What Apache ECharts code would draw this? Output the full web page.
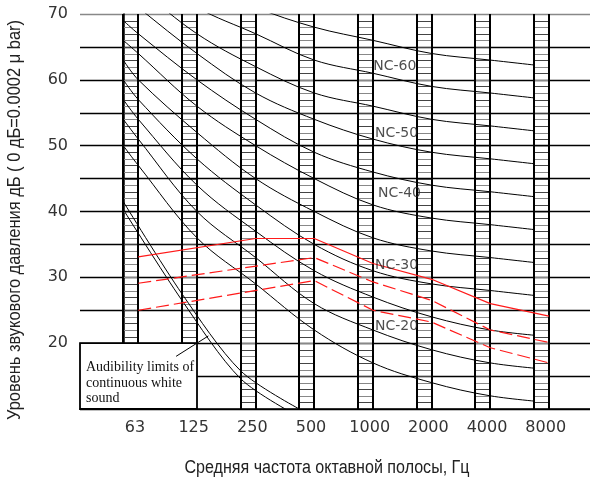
<!DOCTYPE html>
<html><head><meta charset="utf-8">
<script src="https://cdn.jsdelivr.net/npm/echarts@6/dist/echarts.min.js"></script>
<style>html,body{margin:0;padding:0;background:#fff}#c{width:590px;height:483px}</style>
</head><body><div id="c"></div>
<script>
// ---- data ----
const freqLabels = ['63','125','250','500','1000','2000','4000','8000'];
// NC curves: values at each octave band (drawn at the right edge of each band column)
const nc15 = [47,36,29,22,17,14,12,11];
const nc20 = [51,40,33,26,22,19,17,16];
const nc25 = [54,44,37,31,27,24,22,21];
const nc30 = [57,48,41,35,31,29,28,27];
const nc35 = [60,52,45,40,36,34,33,32];
const nc40 = [64,56,50,45,41,39,38,37];
const nc45 = [67,60,54,49,46,44,43,42];
const nc50 = [71,64,58,54,51,49,48,47];
const nc55 = [74,67,62,58,56,54,53,52];
const nc60 = [77,71,67,63,61,59,58,57];
const nc65 = [80,75,71,68,66,64,63,62];
// level of each NC curve where it enters at the left border of the 63 Hz column
const ncEdge63 = [50,54,57,60,63,66,69,73,76,78.5,81.5];
const audUpper = [41.5,27.5,15.8,10.0];
const audLower = [40.3,26.5,14.6,8.8];
const redSolid = [33.1,null,35.9,35.9,32.1,29.7,26.0,24.1];
const redDash1 = [29.1,null,null,33.0,29.3,26.5,22.0,20.1];
const redDash2 = [25.0,null,null,29.5,25.0,23.2,19.3,17.0];
const columnBottom = [20,20,10,10,10,10,10,10];
const ncLabels = ['NC-60','NC-50','NC-40','NC-30','NC-20'];
const ncLabelDb = [62.0,51.8,42.7,31.8,22.5];
const ncLabelX = [4.26,4.29,4.34,4.29,4.29];
const leaderX = [0.90,1.45];
const leaderDb = [18.0,21.1];
const noteText = 'Audibility limits of\ncontinuous white\nsound';
const yTitle = 'Уровень звукового давления дБ ( 0 дБ=0.0002 μ bar)';
const xTitle = 'Средняя частота октавной полосы, Гц';

// ---- layout constants ----
const GRID_L = 80, GRID_T = 14, GRID_W = 510, GRID_H = 395;
const X_MIN = -0.738, X_MAX = 7.955, COL_W = 0.2557, LABEL_OFF = 0.2;
const Y_MIN = 10, Y_MAX = 70;
const PX_PER_UNIT = GRID_W / (X_MAX - X_MIN);
const TITLE_FONT = 'Liberation Sans', TITLE_SIZE = 18;
const TICK_FONT = '"DejaVu Sans ExtraLight", "DejaVu Sans"';

function condenseScale(text, targetWidth){
  const ctx = document.createElement('canvas').getContext('2d');
  ctx.font = TITLE_SIZE + 'px "' + TITLE_FONT + '"';
  return targetWidth / ctx.measureText(text).width;
}

const chart = echarts.init(document.getElementById('c'), null, {renderer:'canvas'});

const ncSets = [nc15,nc20,nc25,nc30,nc35,nc40,nc45,nc50,nc55,nc60,nc65];
const ncSeries = ncSets.map((arr, k) => ({
  type:'line', name:'NC'+(15+5*k), xAxisIndex:1, yAxisIndex:1, clip:true,
  data: [[0, ncEdge63[k]]].concat(arr.map((v,i)=>[i+COL_W, v])),
  smooth:0.35, symbol:'none', silent:true, z:5,
  lineStyle:{color:'#000', width:1}
}));
const audSeries = [audUpper, audLower].map(arr => ({
  type:'line', data: arr.map((v,i)=>[i,v]), smooth:0.3, symbol:'none', silent:true, z:5,
  lineStyle:{color:'#000', width:1}
}));
function redData(arr){ return arr.map((v,i)=>[i+COL_W, v]).filter(d=>d[1]!==null); }
const redSeries = [
  {type:'line', data:redData(redSolid), symbol:'none', z:8, lineStyle:{color:'#ff1a1a', width:1.2}},
  {type:'line', data:redData(redDash1), symbol:'none', z:8, lineStyle:{color:'#ff1a1a', width:1.2, type:[13,5]}},
  {type:'line', data:redData(redDash2), symbol:'none', z:8, lineStyle:{color:'#ff1a1a', width:1.2, type:[13,5]}}
];

const splitColors = [];
for (let v = Y_MIN; v <= Y_MAX; v += 5) splitColors.push(v === Y_MAX ? '#888' : '#000');

const ySc = condenseScale(yTitle, 400);
const xSc = condenseScale(xTitle, 285);
const lastBand = freqLabels.length - 1;

const option = {
  animation:false,
  grid:[
    {left:GRID_L, top:GRID_T, width:GRID_W, height:GRID_H, outerBoundsMode:'none'},
    {left:GRID_L + (0 - X_MIN) * PX_PER_UNIT, top:GRID_T, width:lastBand * PX_PER_UNIT, height:GRID_H, outerBoundsMode:'none'}
  ],
  xAxis:[{
    type:'value', min:X_MIN, max:X_MAX, gridIndex:0,
    axisLine:{show:true, lineStyle:{color:'#000', width:1.5}},
    axisTick:{show:false}, splitLine:{show:false},
    axisLabel:{
      customValues: freqLabels.map((_,i)=>i+LABEL_OFF),
      formatter: v => freqLabels[Math.round(v-LABEL_OFF)] || '',
      fontFamily:TICK_FONT, fontSize:16, color:'#333', margin:11
    }
  },{
    type:'value', min:0, max:lastBand, gridIndex:1, show:false
  }],
  yAxis:[{
    type:'value', min:Y_MIN, max:Y_MAX, interval:5, gridIndex:0,
    axisLine:{show:true, lineStyle:{color:'#000', width:1.5}},
    axisTick:{show:false},
    splitLine:{show:true, lineStyle:{color:splitColors, width:1.4}},
    axisLabel:{
      formatter: v => (v % 10 === 0 && v > Y_MIN) ? String(v) : '',
      fontFamily:TICK_FONT, fontSize:16, color:'#333', margin:12
    }
  },{
    type:'value', min:Y_MIN, max:Y_MAX, gridIndex:1, show:false
  }],
  graphic:[
    {type:'text', x:15, y:220, rotation:Math.PI/2, scaleX:ySc,
     style:{text:yTitle, fontFamily:TITLE_FONT, fontSize:TITLE_SIZE, fill:'#222', align:'center', verticalAlign:'middle'}},
    {type:'text', x:327, y:468, scaleX:xSc,
     style:{text:xTitle, fontFamily:TITLE_FONT, fontSize:TITLE_SIZE, fill:'#222', align:'center', verticalAlign:'middle'}},
    {type:'text', x:86, y:360, z:20,
     style:{text:noteText, fontFamily:'Liberation Serif', fontSize:14, lineHeight:15.5, fill:'#111', align:'left', verticalAlign:'top'}}
  ],
  series:[
    {type:'custom', name:'columns', silent:true, z:3, clip:false,
     data: columnBottom.map((b,i)=>[i,b]),
     renderItem:(params, api) => {
       const i = api.value(0), bottom = api.value(1);
       const tl = api.coord([i, Y_MAX]);
       const br = api.coord([i+COL_W, bottom]);
       const xl = Math.round(tl[0]), xr = Math.round(br[0]);
       const children = [];
       for (let d = bottom+1; d < Y_MAX; d++) {
         const y = Math.round(api.coord([i, d])[1]) + 0.5;
         children.push({type:'line', shape:{x1:xl, y1:y, x2:xr, y2:y},
                        style:{stroke: d % 2 ? '#444' : '#888', lineWidth:1}});
       }
       children.push({type:'line', shape:{x1:xl, y1:tl[1], x2:xl, y2:br[1]}, style:{stroke:'#000', lineWidth:2}});
       children.push({type:'line', shape:{x1:xr, y1:tl[1], x2:xr, y2:br[1]}, style:{stroke:'#000', lineWidth:2}});
       return {type:'group', children};
     }},
    {type:'custom', name:'noteBox', silent:true, z:4, clip:false,
     data:[[1, 20]],
     renderItem:(params, api) => {
       const p1 = api.coord([X_MIN, api.value(1)]);
       const p2 = api.coord([api.value(0)+COL_W, Y_MIN]);
       return {type:'rect', shape:{x:p1[0], y:p1[1], width:Math.round(p2[0])-p1[0], height:p2[1]-p1[1]},
               style:{fill:'#fff', stroke:'#000', lineWidth:1.8}};
     }},
    ...ncSeries,
    ...audSeries,
    {type:'line', data: leaderX.map((x,i)=>[x, leaderDb[i]]), symbol:'none', z:9, lineStyle:{color:'#000', width:1}},
    ...redSeries,
    {type:'scatter', symbolSize:0, z:10, silent:true,
     data: ncLabels.map((t,i)=>[ncLabelX[i], ncLabelDb[i], t]),
     label:{show:true, position:'right', distance:0, formatter:p=>p.data[2],
            fontFamily:TICK_FONT, fontSize:14, color:'#222'}}
  ]
};
chart.setOption(option);
</script></body></html>
